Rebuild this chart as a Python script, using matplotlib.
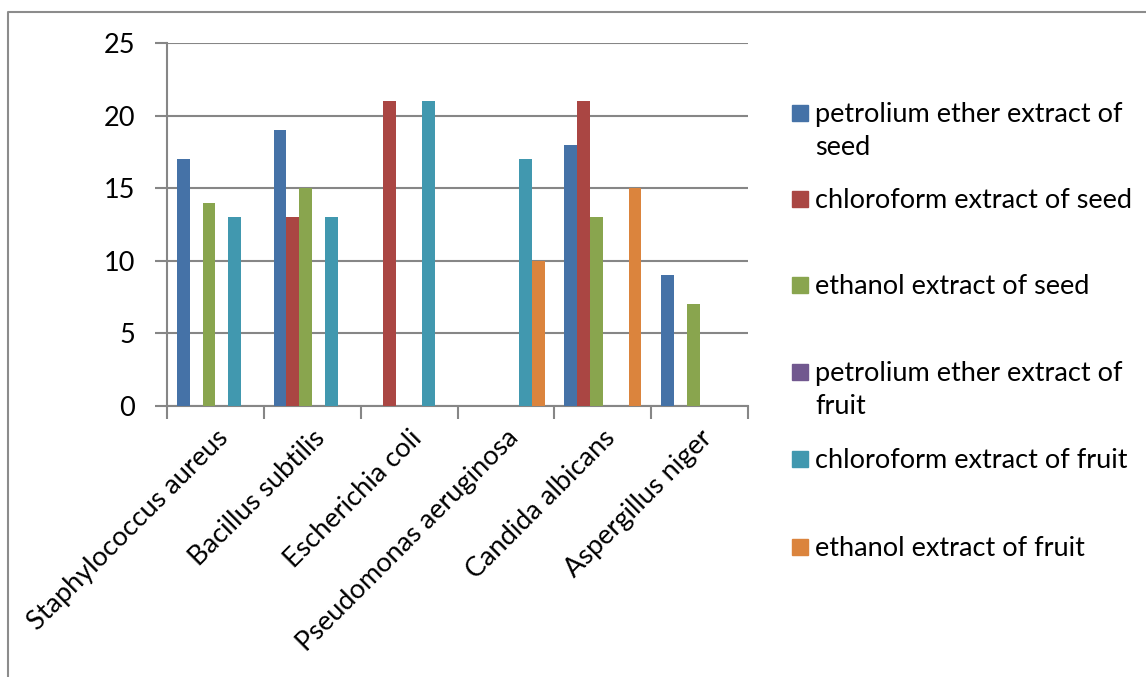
import matplotlib
matplotlib.use("Agg")
import matplotlib.pyplot as plt
from matplotlib.patches import Rectangle
from matplotlib.lines import Line2D
import numpy as np

organisms = ["Staphylococcus aureus", "Bacillus subtilis", "Escherichia coli",
             "Pseudomonas aeruginosa", "Candida albicans", "Aspergillus niger"]
series_names = ["petrolium ether extract of\nseed", "chloroform extract of seed",
                "ethanol extract of seed", "petrolium ether extract of\nfruit",
                "chloroform extract of fruit", "ethanol extract of fruit"]
pe_seed = [17, 19, 0, 0, 18, 9]
chloro_seed = [0, 13, 21, 0, 21, 0]
ethanol_seed = [14, 15, 0, 0, 13, 7]
pe_fruit = [0, 0, 0, 0, 0, 0]
chloro_fruit = [13, 13, 21, 17, 0, 0]
ethanol_fruit = [0, 0, 0, 10, 15, 0]
y_ticks = [0, 5, 10, 15, 20, 25]

colors = ["#4572A7", "#AA4643", "#89A54E", "#71588F", "#4198AF", "#DB843D"]
series = [pe_seed, chloro_seed, ethanol_seed, pe_fruit, chloro_fruit, ethanol_fruit]

plt.rcParams['font.family'] = ['Lato', 'DejaVu Sans']
FS = 19.5
W, H = 1146, 677
fig = plt.figure(figsize=(W / 100, H / 100), dpi=100)

# chart frame (left and top edges)
fig.add_artist(Line2D([7.5 / W, 7.5 / W, 1.0], [0.0, 1 - 11.5 / H, 1 - 11.5 / H],
                      transform=fig.transFigure, color="#8c8c8c", lw=1.5))

ax_l, ax_r, ax_t, ax_b = 167, 748, 43, 406
ax = fig.add_axes([ax_l / W, 1 - ax_b / H, (ax_r - ax_l) / W, (ax_b - ax_t) / H])

n = len(series)
w = 1 / (n + 1.5)
x = np.arange(len(organisms))
for k, (vals, c) in enumerate(zip(series, colors)):
    ax.bar(x + 0.75 * w + k * w, vals, width=w, align="edge", color=c, zorder=3)

ax.set_xlim(0, len(organisms))
ax.set_ylim(0, 25)
ax.set_yticks(y_ticks)
ax.set_yticklabels([str(v) for v in y_ticks])
ax.yaxis.grid(True, color="#868686", lw=1.5, zorder=0)
ax.set_axisbelow(True)
ax.set_xticks(np.arange(len(organisms) + 1))
ax.set_xticklabels([])
ax.set_xticks(x + 0.5, minor=True)
ax.set_xticklabels(organisms, minor=True, rotation=45, ha="right",
                   rotation_mode="anchor", fontsize=FS)
ax.tick_params(axis="x", which="minor", length=0, pad=14)
ax.tick_params(axis="x", which="major", length=9, width=1.5, color="#868686")
ax.tick_params(axis="y", length=9, width=1.5, color="#868686", labelsize=FS, pad=14)
for s in ["top", "right"]:
    ax.spines[s].set_visible(False)
for s in ["left", "bottom"]:
    ax.spines[s].set_color("#868686")
    ax.spines[s].set_linewidth(1.5)

# legend drawn at fixed figure positions
leg_y = [113, 199, 285, 372, 459, 547]
for name, c, yy in zip(series_names, colors, leg_y):
    fig.add_artist(Rectangle((792 / W, 1 - (yy + 8) / H), 16 / W, 16 / H,
                             transform=fig.transFigure, color=c))
    fig.text(815 / W, 1 - (yy - 11) / H, name, fontsize=FS, va="top", ha="left",
             linespacing=1.4)

fig.savefig("out.png", dpi=100)
